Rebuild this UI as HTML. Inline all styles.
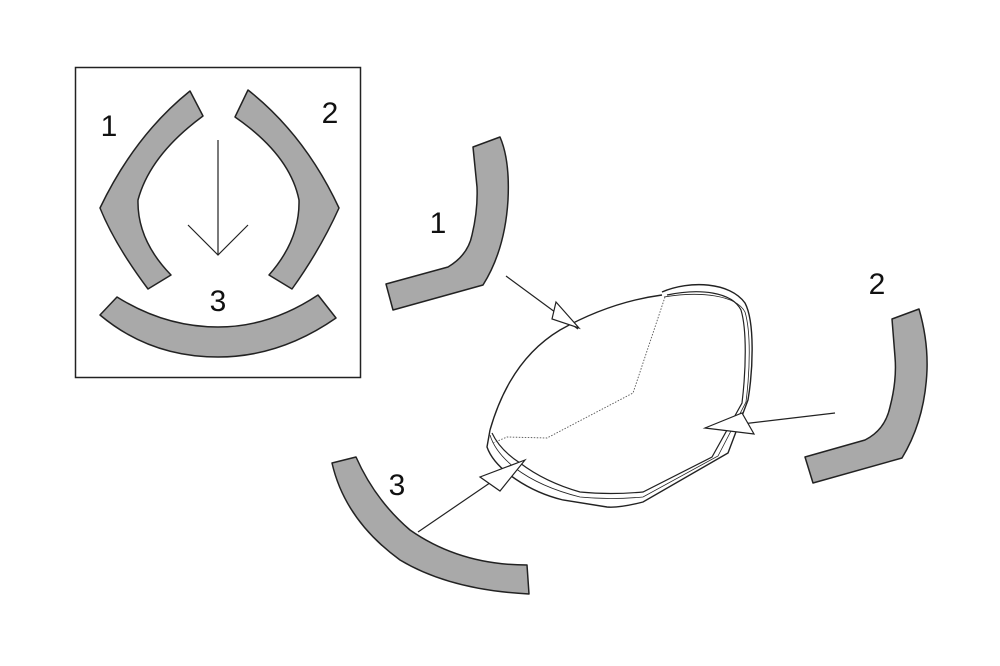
<!DOCTYPE html>
<html><head><style>html,body{margin:0;padding:0;background:#fff}svg{display:block}</style></head>
<body>
<svg width="1000" height="666" viewBox="0 0 1000 666" xmlns="http://www.w3.org/2000/svg">
<g fill="#a9a9a9" stroke="#222" stroke-width="1.5" stroke-linejoin="round">
<path d="M190,91 L203,116 Q150,155 138,200 Q137,240 171,275 L148,289 Q115,245 100,208 Q135,135 190,91 Z"/>
<path d="M248,90 L235,117 Q290,155 299,200 Q300,240 269,275 L292,289 Q320,250 339,208 Q305,135 248,90 Z"/>
<path d="M100,315 L117,297 Q165,327 218,327 Q270,327 318,295 L336,318 Q280,357 218,357 Q150,357 100,315 Z"/>
<path d="M473,147 L500,137 Q510,160 508,200 Q505,250 483,285 L393,310 L386,284 L448,267 Q468,255 472,235 Q478,210 477,187 Z"/>
<path d="M892,319 L919,309 Q928,340 927,370 Q925,420 902,458 L813,483 L805,457 L865,440 Q885,430 890,407 Q897,380 895,357 Z"/>
<path d="M332,463 L356,457 Q375,500 410,530 Q460,565 527,565 L529,594 Q450,590 400,560 Q345,520 332,463 Z"/>
</g>
<rect x="75.5" y="67.5" width="285" height="310" fill="none" stroke="#222" stroke-width="1.5"/>
<g fill="none" stroke="#222" stroke-width="1.2">
<line x1="218" y1="140" x2="218" y2="255"/>
<polyline points="188,225 218,255 248,225"/>
<path d="M490,430 Q510,360 560,330 Q610,302 662,295" stroke-width="1.4"/>
<path d="M662,292 C690,280 730,282 745,303 C755,322 753,370 748,400 L728,453 L643,502 Q620,508 607,507 L563,500 C530,492 495,470 487,447 L490,430" stroke-width="1.4"/>
<path d="M667,295 C700,288 732,292 741,310 C747,330 746,370 742,403 L712,457 L643,492 Q610,495 580,492 Q545,482 520,463 Q500,450 492,433"/>
<path d="M664,297 C700,291 736,295 745,312 C751,332 750,370 746,402 L718,456 L643,497 Q610,500 580,497 Q540,487 515,468 Q495,452 490,435" stroke-width="0.8"/>
<path d="M665,297 L653,333 L633,393 L547,438 L507,437 L493,443" stroke="#555" stroke-width="0.9" stroke-dasharray="1.5,1.5"/>
<line x1="506" y1="276" x2="578" y2="329"/>
<polygon points="579,328 556,302 552,319" fill="#fff"/>
<line x1="835" y1="413" x2="742" y2="424"/>
<polygon points="705,428 742,413 754,434" fill="#fff"/>
<line x1="418" y1="532" x2="500" y2="476"/>
<polygon points="525,460 480,477 500,491" fill="#fff"/>
</g>
<g font-family="Liberation Sans, sans-serif" font-size="30" fill="#111" text-anchor="middle">
<text x="109" y="136">1</text>
<text x="330" y="123">2</text>
<text x="218" y="311">3</text>
<text x="438" y="233">1</text>
<text x="877" y="294">2</text>
<text x="397" y="495">3</text>
</g>
</svg>
</body></html>
